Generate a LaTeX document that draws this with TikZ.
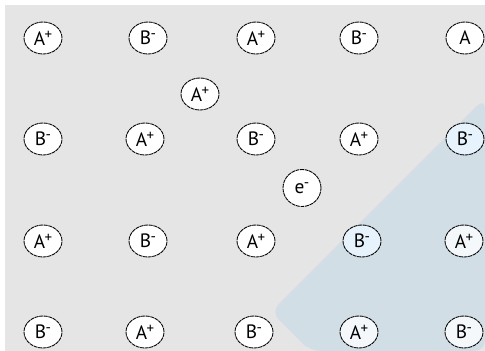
\documentclass[tikz,border=0pt]{standalone}
\usepackage{fontspec}
\setmainfont{PT Sans}
\usetikzlibrary{shapes.geometric}
\definecolor{bgray}{RGB}{229,229,229}
\definecolor{wmark}{RGB}{210,222,230}
\definecolor{ionb}{RGB}{230,243,252}
\definecolor{iont}{RGB}{244,248,251}
\newcommand{\chg}[1]{\kern-0.3pt\raisebox{0.62ex}{\fontsize{8.5}{9}\selectfont #1}}

\begin{document}
\begin{tikzpicture}[
  x=0.02cm, y=-0.02cm,
  font=\fontsize{11}{12}\selectfont,
  ion/.style={ellipse, draw=black, line width=0.5pt, dash pattern=on 2.2pt off 0.4pt,
              fill=white, minimum width=0.76cm, minimum height=0.64cm, inner sep=0pt},
  elec/.style={ion, minimum width=0.76cm, minimum height=0.74cm},
]
\useasboundingbox (0,0) rectangle (485,351);

%% ---- background and faint overlay ----
\fill[bgray] (5,5) rectangle (485,351);
\fill[wmark, rounded corners=6pt] (485,98) -- (271,312) -- (310,351) -- (485,351) -- cycle;

%% ---- row 1 ----
\node[ion] (r1a) at (43,38)  {A\chg{+}};
\node[ion] (r1b) at (148,38) {B\chg{-}};
\node[ion] (r1c) at (256,38) {A\chg{+}};
\node[ion] (r1d) at (359,38) {B\chg{-}};
\node[ion] (r1e) at (465,38) {A};

%% ---- interstitial ion ----
\node[ion] (ia) at (200,94) {A\chg{+}};

%% ---- row 2 ----
\node[ion] (r2a) at (43,139)  {B\chg{-}};
\node[ion] (r2b) at (145,139) {A\chg{+}};
\node[ion] (r2c) at (256,139) {B\chg{-}};
\node[ion] (r2d) at (359,139) {A\chg{+}};
\node[ion, fill=ionb] (r2e) at (465,139) {B\chg{-}};

%% ---- trapped electron ----
\node[elec] (el) at (302,188) {e\chg{-}};

%% ---- row 3 ----
\node[ion] (r3a) at (43,241)  {A\chg{+}};
\node[ion] (r3b) at (148,241) {B\chg{-}};
\node[ion] (r3c) at (256,241) {A\chg{+}};
\node[ion, fill=ionb] (r3d) at (362,241) {B\chg{-}};
\node[ion, fill=iont] (r3e) at (464,241) {A\chg{+}};

%% ---- row 4 ----
\node[ion] (r4a) at (43,332)  {B\chg{-}};
\node[ion] (r4b) at (145,332) {A\chg{+}};
\node[ion] (r4c) at (254,332) {B\chg{-}};
\node[ion, fill=iont] (r4d) at (359,332) {A\chg{+}};
\node[ion, fill=iont] (r4e) at (464,332) {B\chg{-}};

\end{tikzpicture}
\end{document}
